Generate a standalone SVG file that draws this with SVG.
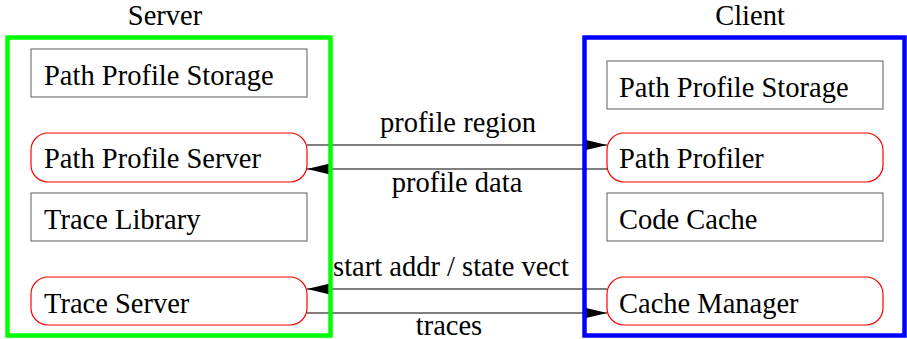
<svg xmlns="http://www.w3.org/2000/svg" width="907" height="339" viewBox="0 0 907 339">
  <style>
    text { font-family: "Liberation Serif", "Times New Roman", serif; font-size: 28.5px; fill: #000; }
    .mid { text-anchor: middle; }
    .store { fill: #fff; stroke: #777; stroke-width: 1.2; }
    .proc { fill: #fff; stroke: #f00; stroke-width: 1.2; }
    .edge { fill: none; stroke: #000; stroke-width: 1.2; }
    .frame { fill: none; stroke-width: 4.5; }
  </style>
  <defs>
    <marker id="arrow" markerUnits="userSpaceOnUse" markerWidth="24" markerHeight="12" refX="23" refY="5.5" orient="auto">
      <path d="M0,0 L23,5.5 L0,11 Z" fill="#000"/>
    </marker>
  </defs>

  <!-- titles -->
  <text class="mid" x="165" y="25">Server</text>
  <text class="mid" x="750" y="25">Client</text>

  <!-- server side -->
  <g id="server-storage">
    <rect class="store" x="31" y="49" width="276" height="48"/>
    <text x="44" y="85">Path Profile Storage</text>
  </g>
  <g id="path-profile-server">
    <rect class="proc" x="31" y="133" width="276" height="49" rx="17"/>
    <text x="44" y="168">Path Profile Server</text>
  </g>
  <g id="trace-library">
    <rect class="store" x="31" y="193" width="276" height="48"/>
    <text x="44" y="229">Trace Library</text>
  </g>
  <g id="trace-server">
    <rect class="proc" x="31" y="277" width="276" height="48" rx="17"/>
    <text x="44" y="313">Trace Server</text>
  </g>

  <!-- client side -->
  <g id="client-storage">
    <rect class="store" x="607" y="61" width="276" height="48"/>
    <text x="619" y="97">Path Profile Storage</text>
  </g>
  <g id="path-profiler">
    <rect class="proc" x="607" y="133" width="276" height="49" rx="17"/>
    <text x="619" y="168">Path Profiler</text>
  </g>
  <g id="code-cache">
    <rect class="store" x="607" y="193" width="276" height="48"/>
    <text x="619" y="229">Code Cache</text>
  </g>
  <g id="cache-manager">
    <rect class="proc" x="607" y="277" width="276" height="48" rx="17"/>
    <text x="619" y="313">Cache Manager</text>
  </g>

  <!-- connectors -->
  <g id="connectors">
    <line class="edge" x1="307" y1="145" x2="607" y2="145" marker-end="url(#arrow)"/>
    <text class="mid" x="458" y="132">profile region</text>
    <line class="edge" x1="607" y1="169" x2="307" y2="169" marker-end="url(#arrow)"/>
    <text class="mid" x="457" y="192">profile data</text>
    <line class="edge" x1="607" y1="289" x2="307" y2="289" marker-end="url(#arrow)"/>
    <text class="mid" x="451" y="276">start addr / state vect</text>
    <line class="edge" x1="307" y1="313" x2="607" y2="313" marker-end="url(#arrow)"/>
    <text class="mid" x="449" y="335">traces</text>
  </g>

  <!-- container frames -->
  <g id="server-frame">
    <rect class="frame" x="7.5" y="37.5" width="323" height="298" stroke="#0f0"/>
  </g>
  <g id="client-frame">
    <rect class="frame" x="584.5" y="37.5" width="320" height="298" stroke="#00f"/>
  </g>
</svg>
